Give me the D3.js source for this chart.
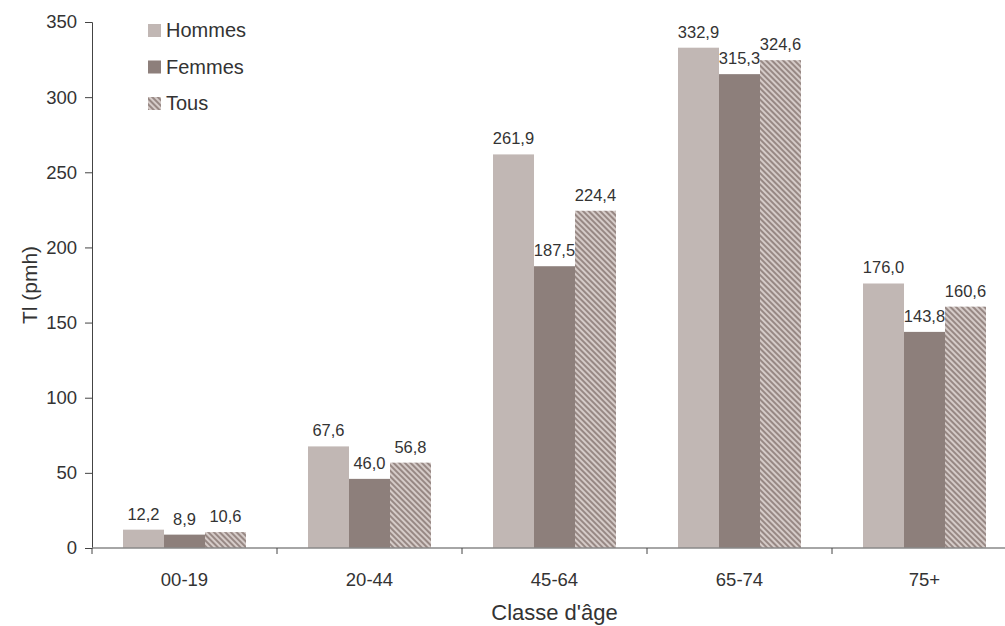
<!DOCTYPE html>
<html>
<head>
<meta charset="utf-8">
<script src="https://cdn.jsdelivr.net/npm/d3@7"></script>
<style>
  html, body { margin: 0; padding: 0; background: #fff; }
  svg { display: block; font-family: "Liberation Sans", Arial, sans-serif; }
</style>
</head>
<body>
<svg id="chart" width="1005" height="626"></svg>
<script>
const categories = ["00-19", "20-44", "45-64", "65-74", "75+"];
const seriesNames = ["Hommes", "Femmes", "Tous"];
const hommes = [12.2, 67.6, 261.9, 332.9, 176.0];
const femmes = [8.9, 46.0, 187.5, 315.3, 143.8];
const tous = [10.6, 56.8, 224.4, 324.6, 160.6];
const yTicks = [0, 50, 100, 150, 200, 250, 300, 350];
const yTitle = "Tl (pmh)";
const xTitle = "Classe d'âge";

const seriesValues = [hommes, femmes, tous];
const fills = ["#c1b7b4", "#8d7f7b", "url(#hatch)"];

const svg = d3.select("#chart");
const m = { left: 92, top: 22, bottom: 548 };
const bandW = 185;
const x = d3.scaleBand().domain(categories).range([m.left, m.left + bandW * categories.length]).paddingInner(0).paddingOuter(0);
const y = d3.scaleLinear().domain([0, 350]).range([m.bottom, m.top]);
const inner = d3.scaleBand().domain(seriesNames).range([31, bandW - 31]).padding(0);

const defs = svg.append("defs");
const pat = defs.append("pattern").attr("id", "hatch").attr("patternUnits", "userSpaceOnUse")
  .attr("width", 4).attr("height", 4).attr("patternTransform", "rotate(45)");
pat.append("rect").attr("width", 4).attr("height", 4).attr("fill", "#d5cbc8");
pat.append("rect").attr("width", 4).attr("height", 2).attr("fill", "#978884");

// bars
seriesNames.forEach((s, si) => {
  const g = svg.append("g");
  const data = categories.map((c, i) => ({ c, v: seriesValues[si][i] }));
  g.selectAll("rect").data(data)
    .join("rect")
    .attr("x", d => x(d.c) + inner(s))
    .attr("y", d => y(d.v))
    .attr("width", inner.bandwidth())
    .attr("height", d => y(0) - y(d.v))
    .attr("fill", fills[si]);
  g.selectAll("text").data(data)
    .join("text")
    .attr("x", d => x(d.c) + inner(s) + inner.bandwidth() / 2)
    .attr("y", d => y(d.v) - 10)
    .attr("text-anchor", "middle")
    .attr("font-size", 16.5)
    .attr("fill", "#333")
    .text(d => d3.format(".1f")(d.v).replace(".", ","));
});

// y axis
const yAxis = svg.append("g").attr("transform", `translate(${m.left},0)`)
  .call(d3.axisLeft(y).tickValues(yTicks).tickSize(7).tickPadding(8).tickFormat(d3.format("d")));
yAxis.select(".domain").attr("stroke", "#444");
yAxis.selectAll(".tick line").attr("stroke", "#444");
yAxis.selectAll("text").attr("font-size", 18.5).attr("fill", "#333").attr("font-family", "Liberation Sans, Arial, sans-serif");

// x axis
const xAxis = svg.append("g").attr("transform", `translate(0,${m.bottom})`);
xAxis.append("line").attr("x1", m.left).attr("x2", m.left + bandW * categories.length)
  .attr("stroke", "#888").attr("stroke-width", 1.5);
const boundaries = d3.range(categories.length + 1).map(i => m.left + i * bandW);
xAxis.selectAll("line.tk").data(boundaries).join("line").attr("class", "tk")
  .attr("x1", d => d).attr("x2", d => d).attr("y1", 0).attr("y2", 6).attr("stroke", "#444");
xAxis.selectAll("text").data(categories).join("text")
  .attr("x", d => x(d) + bandW / 2).attr("y", 38)
  .attr("text-anchor", "middle").attr("font-size", 18.5).attr("fill", "#333").text(d => d);

// titles
svg.append("text").attr("x", (m.left + m.left + bandW * categories.length) / 2).attr("y", 620)
  .attr("text-anchor", "middle").attr("font-size", 22).attr("fill", "#333").text(xTitle);
svg.append("text").attr("transform", `translate(37,${(m.top + m.bottom) / 2}) rotate(-90)`)
  .attr("text-anchor", "middle").attr("font-size", 21).attr("fill", "#333").text(yTitle);

// legend
const leg = svg.append("g");
seriesNames.forEach((s, i) => {
  const base = 37 + i * 36.5;
  leg.append("rect").attr("x", 148).attr("y", base - 13).attr("width", 13).attr("height", 13).attr("fill", fills[i]);
  leg.append("text").attr("x", 166).attr("y", base).attr("font-size", 20).attr("fill", "#333").text(s);
});
</script>
</body>
</html>
